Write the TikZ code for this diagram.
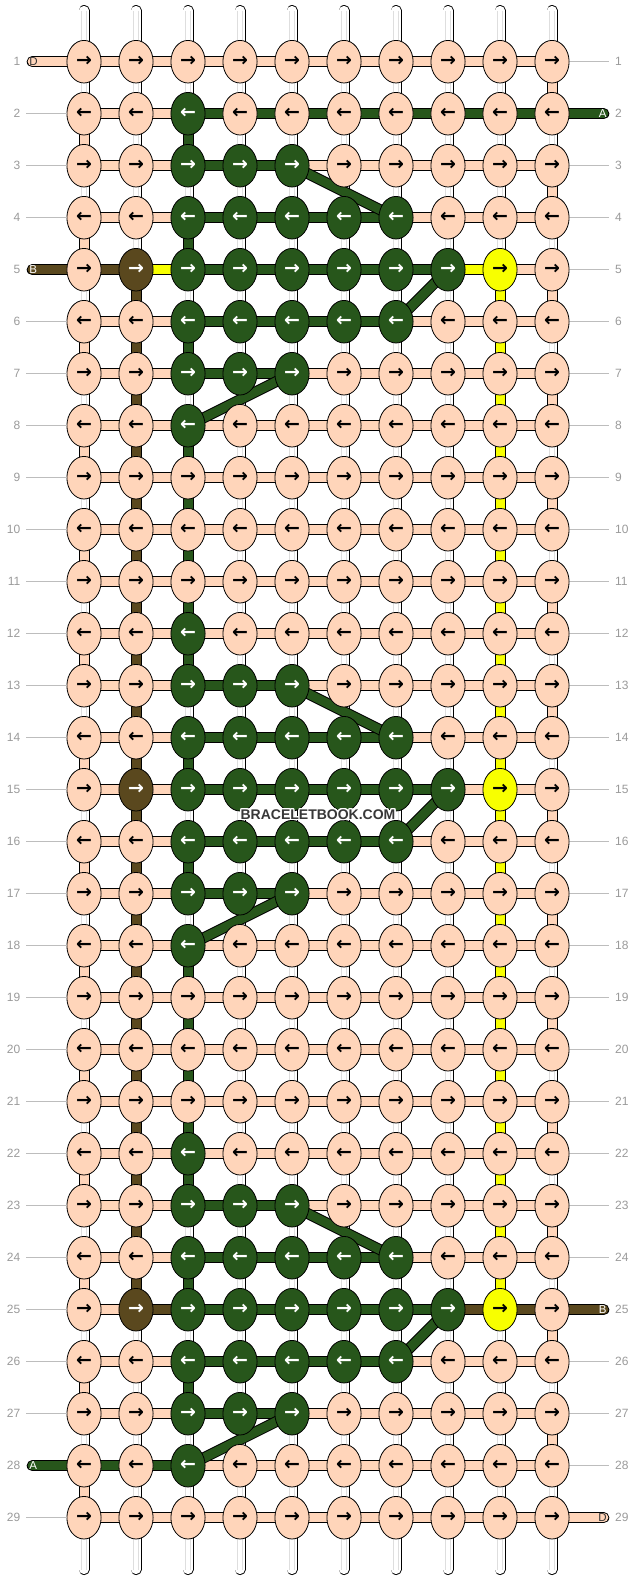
\documentclass[tikz,border=0pt]{standalone}
\usepackage{fontspec}
\setmainfont{Liberation Sans}
\newfontfamily\arrowfont{DejaVu Sans}
\usepackage[copies]{contour}
\usetikzlibrary{shapes.geometric}
\usetikzlibrary{positioning}

\definecolor{P}{HTML}{FFD5BA}
\definecolor{G}{HTML}{27561B}
\definecolor{B}{HTML}{5A481E}
\definecolor{Y}{HTML}{F8FF00}
\colorlet{txtP}{black}
\colorlet{txtG}{white}
\colorlet{txtB}{white}
\colorlet{txtY}{black}
\definecolor{numgray}{HTML}{9A9A9A}
\definecolor{guidegray}{HTML}{BDBDBD}

\pgfdeclarelayer{strings}
\pgfsetlayers{strings,main}
\contourlength{1.2pt}

\begin{document}
\begin{tikzpicture}[x=1pt,y=-1pt,
		knot/.style={ellipse, draw=black, line width=0.8pt, minimum width=34.2pt, minimum height=42.6pt, inner sep=0pt,
			fill=#1, text=txt#1, font=\arrowfont\bfseries\fontsize{19}{19}\selectfont},
		thread/.style={draw=black, line width=1pt, double=#1, double distance=9pt},
		loose/.style={thread=#1, line cap=round},
		warp/.style={draw=black, line width=0.9pt, double=white, double distance=9.2pt, line cap=round},
		warpline/.style={draw=black!13, line width=0.6pt, double=white, double distance=4.6pt},
		endlbl/.style={font=\fontsize{11.5}{11.5}\selectfont, inner sep=0pt},
		num/.style={font=\fontsize{12}{12}\selectfont, text=numgray, inner sep=0pt},
		guide/.style={draw=guidegray, line width=0.9pt}]
	\useasboundingbox (0,0) rectangle (636,1580);

	% warp strings
	\begin{pgfonlayer}{strings}
		\foreach \c in {1,...,10} {
			\coordinate (top-\c) at ({84+52*(\c-1)},10.5);
			\coordinate (bot-\c) at ({84+52*(\c-1)},1569.5);
			\draw[warp] (top-\c) -- (bot-\c);
			\draw[warpline] (top-\c) -- (bot-\c);
		}
	\end{pgfonlayer}

	% knots row by row, then the threads between them
	\foreach \r/\row/\segs in {
			1/{P,P,P,P,P,P,P,P,P,P}/{P,P,P,P,P,P,P,P,P},
			2/{P,P,G,P,P,P,P,P,P,P}/{P,P,G,G,G,G,G,G,G},
			3/{P,P,G,G,G,P,P,P,P,P}/{P,P,G,G,P,P,P,P,P},
			4/{P,P,G,G,G,G,G,P,P,P}/{P,P,G,G,G,G,P,P,P},
			5/{P,B,G,G,G,G,G,G,Y,P}/{B,Y,G,G,G,G,G,Y,P},
			6/{P,P,G,G,G,G,G,P,P,P}/{P,P,G,G,G,G,P,P,P},
			7/{P,P,G,G,G,P,P,P,P,P}/{P,P,G,G,P,P,P,P,P},
			8/{P,P,G,P,P,P,P,P,P,P}/{P,P,P,P,P,P,P,P,P},
			9/{P,P,P,P,P,P,P,P,P,P}/{P,P,P,P,P,P,P,P,P},
			10/{P,P,P,P,P,P,P,P,P,P}/{P,P,P,P,P,P,P,P,P},
			11/{P,P,P,P,P,P,P,P,P,P}/{P,P,P,P,P,P,P,P,P},
			12/{P,P,G,P,P,P,P,P,P,P}/{P,P,P,P,P,P,P,P,P},
			13/{P,P,G,G,G,P,P,P,P,P}/{P,P,G,G,P,P,P,P,P},
			14/{P,P,G,G,G,G,G,P,P,P}/{P,P,G,G,G,G,P,P,P},
			15/{P,B,G,G,G,G,G,G,Y,P}/{P,P,G,G,G,G,G,P,P},
			16/{P,P,G,G,G,G,G,P,P,P}/{P,P,G,G,G,G,P,P,P},
			17/{P,P,G,G,G,P,P,P,P,P}/{P,P,G,G,P,P,P,P,P},
			18/{P,P,G,P,P,P,P,P,P,P}/{P,P,P,P,P,P,P,P,P},
			19/{P,P,P,P,P,P,P,P,P,P}/{P,P,P,P,P,P,P,P,P},
			20/{P,P,P,P,P,P,P,P,P,P}/{P,P,P,P,P,P,P,P,P},
			21/{P,P,P,P,P,P,P,P,P,P}/{P,P,P,P,P,P,P,P,P},
			22/{P,P,G,P,P,P,P,P,P,P}/{P,P,P,P,P,P,P,P,P},
			23/{P,P,G,G,G,P,P,P,P,P}/{P,P,G,G,P,P,P,P,P},
			24/{P,P,G,G,G,G,G,P,P,P}/{P,P,G,G,G,G,P,P,P},
			25/{P,B,G,G,G,G,G,G,Y,P}/{P,B,G,G,G,G,G,B,B},
			26/{P,P,G,G,G,G,G,P,P,P}/{P,P,G,G,G,G,P,P,P},
			27/{P,P,G,G,G,P,P,P,P,P}/{P,P,G,G,P,P,P,P,P},
			28/{P,P,G,P,P,P,P,P,P,P}/{G,G,P,P,P,P,P,P,P},
			29/{P,P,P,P,P,P,P,P,P,P}/{P,P,P,P,P,P,P,P,P}} {
		\ifodd\r\relax \def\arr{→}\else \def\arr{←}\fi
		\foreach \k [count=\c] in \row
			\node[knot=\k] (k-\r-\c) at ({84+52*(\c-1)},{61.7+52*(\r-1)}) {\arr};
		\begin{pgfonlayer}{strings}
			\foreach \s [count=\c] in \segs {
				\pgfmathtruncatemacro\n{\c+1}
				\draw[thread=\s] (k-\r-\c.center) -- (k-\r-\n.center);
			}
		\end{pgfonlayer}
	}

	\begin{pgfonlayer}{strings}
		% threads turning down at the edges and running along a column
		\foreach \r in {2,4,...,28} {
			\pgfmathtruncatemacro\n{\r+1}
			\draw[thread=P] (k-\r-1.center) -- (k-\n-1.center);
		}
		\foreach \r in {1,3,...,27} {
			\pgfmathtruncatemacro\n{\r+1}
			\draw[thread=P] (k-\r-10.center) -- (k-\n-10.center);
		}
		\foreach \r in {5,...,24} {
			\pgfmathtruncatemacro\n{\r+1}
			\draw[thread=B] (k-\r-2.center) -- (k-\n-2.center);
			\draw[thread=Y] (k-\r-9.center) -- (k-\n-9.center);
		}
		\foreach \r in {2,4,6,8,9,10,11,12,14,16,18,19,20,21,22,24,26} {
			\pgfmathtruncatemacro\n{\r+1}
			\draw[thread=G] (k-\r-3.center) -- (k-\n-3.center);
		}

		% diagonal runs of the green thread
		\foreach \o in {0,10,20} {
			\pgfmathtruncatemacro\ra{3+\o}
			\pgfmathtruncatemacro\rb{4+\o}
			\pgfmathtruncatemacro\rc{5+\o}
			\pgfmathtruncatemacro\rd{6+\o}
			\pgfmathtruncatemacro\re{7+\o}
			\pgfmathtruncatemacro\rf{8+\o}
			\draw[thread=G] (k-\ra-5.center) -- (k-\rb-7.center);
			\draw[thread=G] (k-\rc-8.center) -- (k-\rd-7.center);
			\draw[thread=G] (k-\re-5.center) -- (k-\rf-3.center);
		}

		% loose ends
		\coordinate (end-D1) at (32.2,61.7);
		\coordinate (end-B1) at (32.2,269.7);
		\coordinate (end-A2) at (32.2,1465.7);
		\coordinate (end-A1) at (603.8,113.7);
		\coordinate (end-B2) at (603.8,1309.7);
		\coordinate (end-D2) at (603.8,1517.7);
		\draw[loose=P] (end-D1) -- (k-1-1.center);
		\draw[loose=B] (end-B1) -- (k-5-1.center);
		\draw[loose=G] (end-A2) -- (k-28-1.center);
		\draw[loose=G] (k-2-10.center) -- (end-A1);
		\draw[loose=B] (k-25-10.center) -- (end-B2);
		\draw[loose=P] (k-29-10.center) -- (end-D2);
	\end{pgfonlayer}
	\node[endlbl, text=black!80, right=-3pt of end-D1] {D};
	\node[endlbl, text=white, right=-3pt of end-B1] {B};
	\node[endlbl, text=white, right=-3pt of end-A2] {A};
	\node[endlbl, text=white, left=-3pt of end-A1] {A};
	\node[endlbl, text=white, left=-3pt of end-B2] {B};
	\node[endlbl, text=black!80, left=-3pt of end-D2] {D};

	% row numbers
	\foreach \r in {1,...,29} {
		\node[num, anchor=east] (nl-\r) at (20.5,{61.7+52*(\r-1)}) {\r};
		\node[num, anchor=west] (nr-\r) at (615,{61.7+52*(\r-1)}) {\r};
	}
	\foreach \r in {2,3,4,6,7,...,27,29}
		\draw[guide, shorten <=5.5pt] (nl-\r.east) -- (k-\r-1.west);
	\foreach \r in {1,3,4,...,24,26,27,28}
		\draw[guide, shorten >=6pt] (k-\r-10.east) -- (nr-\r.west);

	\node[font=\bfseries\fontsize{14}{14}\selectfont, text=black!78] (mark) at (318,815) {\contour{white}{BRACELETBOOK.COM}};
\end{tikzpicture}
\end{document}
